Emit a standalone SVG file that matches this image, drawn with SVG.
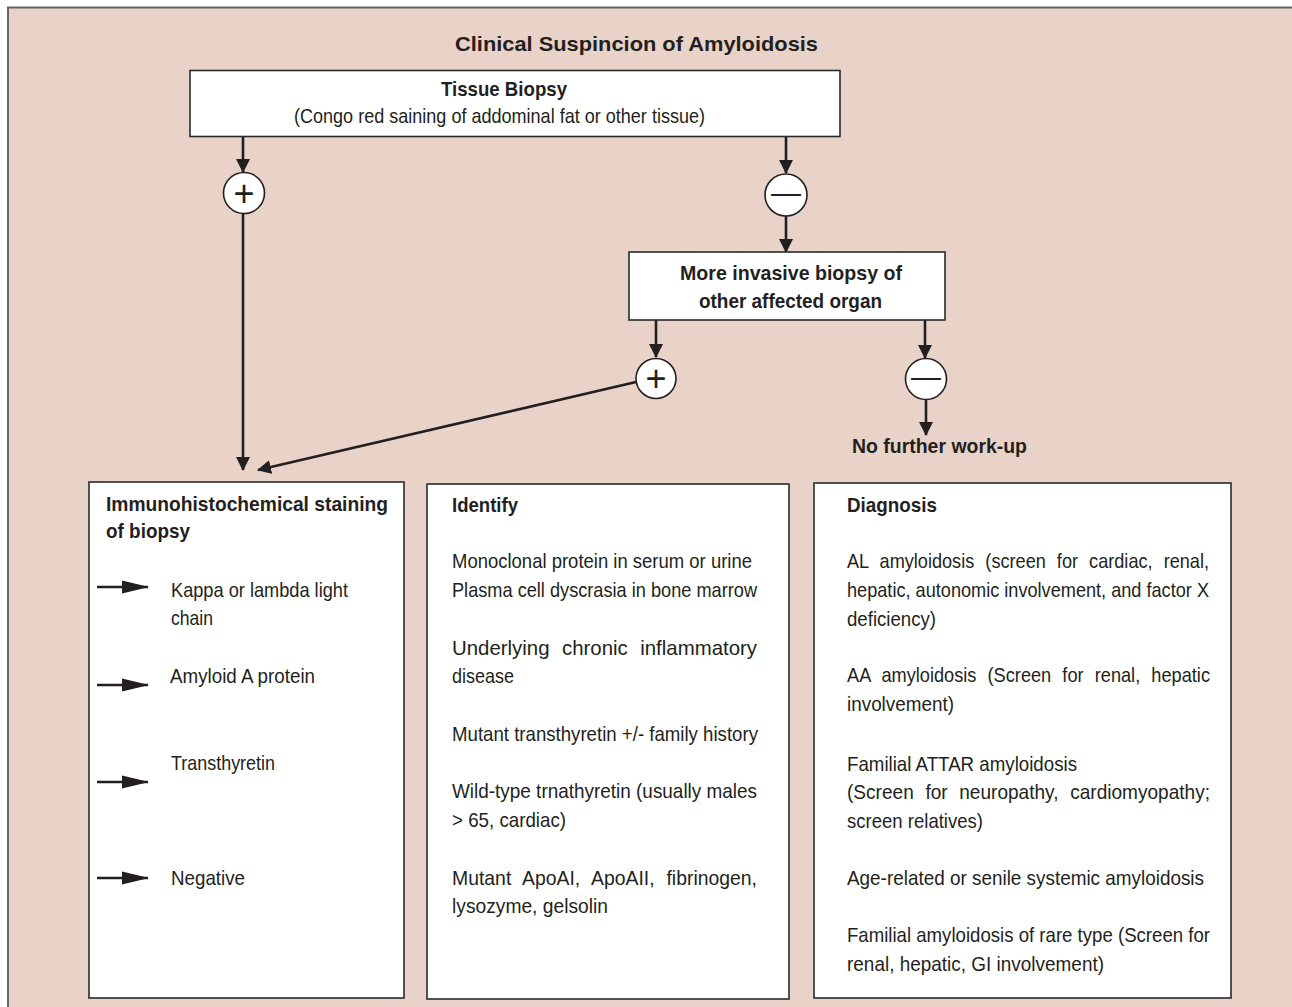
<svg xmlns="http://www.w3.org/2000/svg" width="1292" height="1007" viewBox="0 0 1292 1007">
<defs>
<marker id="ah" markerUnits="userSpaceOnUse" markerWidth="14" markerHeight="14" viewBox="0 0 14 14" refX="13" refY="7" orient="auto">
<path d="M0,0 L14,7 L0,14 z" fill="#231f20"/>
</marker>
<marker id="ahl" markerUnits="userSpaceOnUse" markerWidth="27" markerHeight="14" viewBox="0 0 27 14" refX="26" refY="7" orient="auto">
<path d="M0,0.5 L27,7 L0,13.5 z" fill="#231f20"/>
</marker>
</defs>
<style>
.t{font-family:"Liberation Sans Narrow","Liberation Sans",Arial,sans-serif;font-size:21px;fill:#231f20}
.b{font-weight:bold}
.j{word-spacing:7px}
.box{fill:#fff;stroke:#2a2a2a;stroke-width:1.6}
.ln{stroke:#231f20;stroke-width:2.6;fill:none}
.circ{fill:#fff;stroke:#231f20;stroke-width:1.6}
.sym{font-family:"Liberation Sans",Arial,sans-serif;fill:#231f20}
</style>
<rect x="0" y="0" width="1292" height="1007" fill="#fff"/>
<rect x="8" y="7.5" width="1300" height="1010" fill="#e9d3c8" stroke="#666" stroke-width="2"/>

<g id="title">
<text class="t b" x="455" y="51" font-size="23" textLength="363" lengthAdjust="spacingAndGlyphs">Clinical Suspincion of Amyloidosis</text>
</g>

<g id="connectors">
<line class="ln" x1="243" y1="137" x2="243" y2="172" marker-end="url(#ah)"/>
<line class="ln" x1="243" y1="214" x2="243" y2="470" marker-end="url(#ah)"/>
<line class="ln" x1="786" y1="137" x2="786" y2="173" marker-end="url(#ah)"/>
<line class="ln" x1="786" y1="216" x2="786" y2="252" marker-end="url(#ah)"/>
<line class="ln" x1="656" y1="320" x2="656" y2="357" marker-end="url(#ah)"/>
<line class="ln" x1="925" y1="320" x2="925" y2="358" marker-end="url(#ah)"/>
<line class="ln" x1="926" y1="400" x2="926" y2="435" marker-end="url(#ah)"/>
<line class="ln" x1="636" y1="382" x2="258" y2="470" marker-end="url(#ah)"/>
</g>

<g id="tissue-biopsy">
<rect class="box" x="190" y="70.5" width="650" height="66"/>
<text class="t b" x="441" y="96" textLength="126" lengthAdjust="spacingAndGlyphs">Tissue Biopsy</text>
<text class="t" x="294" y="123" textLength="411" lengthAdjust="spacingAndGlyphs">(Congo red saining of addominal fat or other tissue)</text>
</g>

<g id="pos1">
<circle class="circ" cx="244" cy="193" r="20.5"/>
<text class="sym" x="244" y="205.5" font-size="36" text-anchor="middle">+</text>
</g>
<g id="neg1">
<circle class="circ" cx="786" cy="195" r="21"/>
<text class="sym" x="786" y="202.5" font-size="30" text-anchor="middle">—</text>
</g>

<g id="invasive-biopsy">
<rect class="box" x="629" y="252" width="316" height="68"/>
<text class="t b" x="680" y="280" textLength="222" lengthAdjust="spacingAndGlyphs">More invasive biopsy of</text>
<text class="t b" x="699" y="308" textLength="183" lengthAdjust="spacingAndGlyphs">other affected organ</text>
</g>

<g id="pos2">
<circle class="circ" cx="656" cy="378.5" r="20"/>
<text class="sym" x="656" y="391" font-size="36" text-anchor="middle">+</text>
</g>
<g id="neg2">
<circle class="circ" cx="926" cy="379" r="20.5"/>
<text class="sym" x="926" y="386.5" font-size="30" text-anchor="middle">—</text>
</g>

<g id="no-further">
<text class="t b" x="852" y="453" textLength="175" lengthAdjust="spacingAndGlyphs">No further work-up</text>
</g>

<g id="immuno">
<rect class="box" x="89" y="482" width="315" height="516"/>
<text class="t b" x="106" y="511" textLength="282" lengthAdjust="spacingAndGlyphs">Immunohistochemical staining</text>
<text class="t b" x="106" y="538" textLength="84" lengthAdjust="spacingAndGlyphs">of biopsy</text>
<line class="ln" x1="97" y1="587" x2="148" y2="587" marker-end="url(#ahl)"/>
<text class="t" x="171" y="597" textLength="177" lengthAdjust="spacingAndGlyphs">Kappa or lambda light</text>
<text class="t" x="171" y="625" textLength="42" lengthAdjust="spacingAndGlyphs">chain</text>
<line class="ln" x1="97" y1="685" x2="148" y2="685" marker-end="url(#ahl)"/>
<text class="t" x="170" y="683" textLength="145" lengthAdjust="spacingAndGlyphs">Amyloid A protein</text>
<line class="ln" x1="97" y1="782" x2="148" y2="782" marker-end="url(#ahl)"/>
<text class="t" x="171" y="770" textLength="104" lengthAdjust="spacingAndGlyphs">Transthyretin</text>
<line class="ln" x1="97" y1="878" x2="148" y2="878" marker-end="url(#ahl)"/>
<text class="t" x="171" y="885" textLength="74" lengthAdjust="spacingAndGlyphs">Negative</text>
</g>

<g id="identify">
<rect class="box" x="427" y="484" width="362" height="515"/>
<text class="t b" x="452" y="512" textLength="66" lengthAdjust="spacingAndGlyphs">Identify</text>
<text class="t" x="452" y="568" textLength="300" lengthAdjust="spacingAndGlyphs">Monoclonal protein in serum or urine</text>
<text class="t" x="452" y="597" textLength="305" lengthAdjust="spacingAndGlyphs">Plasma cell dyscrasia in bone marrow</text>
<text class="t j" x="452" y="655" textLength="305" lengthAdjust="spacingAndGlyphs">Underlying chronic inflammatory</text>
<text class="t" x="452" y="683" textLength="62" lengthAdjust="spacingAndGlyphs">disease</text>
<text class="t" x="452" y="741" textLength="306" lengthAdjust="spacingAndGlyphs">Mutant transthyretin +/- family history</text>
<text class="t" x="452" y="798" textLength="305" lengthAdjust="spacingAndGlyphs">Wild-type trnathyretin (usually males</text>
<text class="t" x="452" y="827" textLength="114" lengthAdjust="spacingAndGlyphs">&gt; 65, cardiac)</text>
<text class="t j" x="452" y="885" textLength="305" lengthAdjust="spacingAndGlyphs">Mutant ApoAI, ApoAII, fibrinogen,</text>
<text class="t" x="452" y="913" textLength="156" lengthAdjust="spacingAndGlyphs">lysozyme, gelsolin</text>
</g>

<g id="diagnosis">
<rect class="box" x="814" y="483" width="417" height="515"/>
<text class="t b" x="847" y="512" textLength="90" lengthAdjust="spacingAndGlyphs">Diagnosis</text>
<text class="t j" x="847" y="568" textLength="362" lengthAdjust="spacingAndGlyphs">AL amyloidosis (screen for cardiac, renal,</text>
<text class="t" x="847" y="597" textLength="362" lengthAdjust="spacingAndGlyphs">hepatic, autonomic involvement, and factor X</text>
<text class="t" x="847" y="626" textLength="89" lengthAdjust="spacingAndGlyphs">deficiency)</text>
<text class="t j" x="847" y="682" textLength="363" lengthAdjust="spacingAndGlyphs">AA amyloidosis (Screen for renal, hepatic</text>
<text class="t" x="847" y="711" textLength="107" lengthAdjust="spacingAndGlyphs">involvement)</text>
<text class="t" x="847" y="771" textLength="230" lengthAdjust="spacingAndGlyphs">Familial ATTAR amyloidosis</text>
<text class="t j" x="847" y="799" textLength="363" lengthAdjust="spacingAndGlyphs">(Screen for neuropathy, cardiomyopathy;</text>
<text class="t" x="847" y="828" textLength="136" lengthAdjust="spacingAndGlyphs">screen relatives)</text>
<text class="t" x="847" y="885" textLength="357" lengthAdjust="spacingAndGlyphs">Age-related or senile systemic amyloidosis</text>
<text class="t" x="847" y="942" textLength="363" lengthAdjust="spacingAndGlyphs">Familial amyloidosis of rare type (Screen for</text>
<text class="t" x="847" y="971" textLength="257" lengthAdjust="spacingAndGlyphs">renal, hepatic, GI involvement)</text>
</g>
</svg>
